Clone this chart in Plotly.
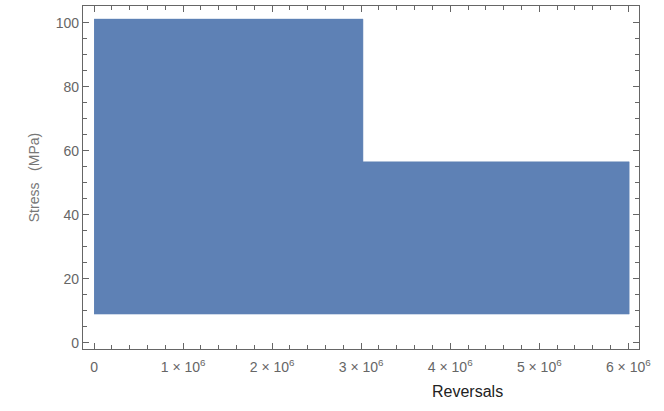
import plotly.graph_objects as go

# Data: stress amplitude bands over reversals (dense oscillation rendered as filled band)
block_start = [0.0, 3.02e6]
block_end = [3.02e6, 6.01e6]
stress_max = [101.2, 56.6]
stress_min = [9.0, 9.0]

xtick_vals = [0, 1e6, 2e6, 3e6, 4e6, 5e6, 6e6]
xtick_text = ["0", "1 × 10<sup>6</sup>", "2 × 10<sup>6</sup>", "3 × 10<sup>6</sup>",
              "4 × 10<sup>6</sup>", "5 × 10<sup>6</sup>", "6 × 10<sup>6</sup>"]
ytick_vals = [0, 20, 40, 60, 80, 100]

# Build band outline from the arrays
xs, ys = [], []
for s, e, hi in zip(block_start, block_end, stress_max):
    xs += [s, e]
    ys += [hi, hi]
for s, e, lo in zip(reversed(block_start), reversed(block_end), reversed(stress_min)):
    xs += [e, s]
    ys += [lo, lo]

color = "#5e81b5"
fig = go.Figure()
fig.add_trace(go.Scatter(x=xs, y=ys, fill="toself", fillcolor=color,
                         mode="lines", line=dict(color=color, width=0.5),
                         hoverinfo="skip", showlegend=False))

axis_common = dict(showgrid=False, zeroline=False, showline=True, linecolor="#666666",
                   linewidth=1.3, mirror="ticks", ticks="inside", ticklen=6,
                   tickcolor="#666666", tickwidth=1.3,
                   tickfont=dict(family="Liberation Sans, Arial", size=14, color="#666666"))

fig.update_xaxes(range=[-0.124e6, 6.12e6], tickvals=xtick_vals, ticktext=xtick_text,
                 ticklabelstandoff=5,
                 minor=dict(ticks="inside", ticklen=3.5, dtick=0.2e6, tick0=0,
                            tickcolor="#666666", tickwidth=1),
                 **axis_common)
fig.update_yaxes(range=[-1.9, 105.3], tickvals=ytick_vals,
                 minor=dict(ticks="inside", ticklen=3.5, dtick=5, tick0=0,
                            tickcolor="#666666", tickwidth=1),
                 title=dict(text="Stress   (MPa)", standoff=12,
                            font=dict(family="Liberation Sans, Arial", size=14, color="#777777")),
                 **axis_common)

fig.add_annotation(text="Reversals", xref="paper", yref="paper", x=0.692, y=-0.125,
                   xanchor="center", yanchor="middle", showarrow=False,
                   font=dict(family="Liberation Sans, Arial", size=16, color="#222222"))

fig.update_layout(width=664, height=411, margin=dict(l=83, r=25, t=6, b=62),
                  plot_bgcolor="white", paper_bgcolor="white")

fig.write_html("out.html")
